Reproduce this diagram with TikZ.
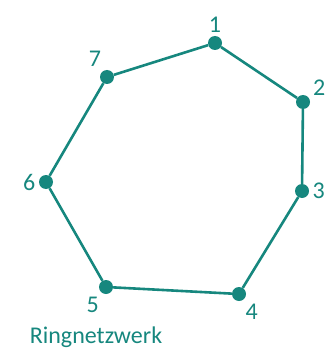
\documentclass[tikz,border=0pt]{standalone}
\usepackage{fontspec}
\setmainfont{Carlito}
\usepackage{tikz}
\definecolor{ringTeal}{HTML}{16877E}
\tikzset{
  netnode/.style={circle,fill=ringTeal,inner sep=0pt,minimum size=14pt,
    label distance=3pt},
  ringlabel/.style={text=ringTeal,font=\fontsize{24}{26}\selectfont},
  ringline/.style={draw=ringTeal,line width=2.6pt}
}
\begin{document}
\begin{tikzpicture}[x=1pt,y=-1pt,every label/.style={ringlabel}]
  \useasboundingbox (0,0) rectangle (331,350);
  \node[netnode,label=90:1] (n1) at (215,43) {};
  \node[netnode,label=25:2] (n2) at (303,102) {};
  \node[netnode,label=0:3] (n3) at (302,191) {};
  \node[netnode,label=-65:4] (n4) at (239,294) {};
  \node[netnode,label=-120:5] (n5) at (106,287) {};
  \node[netnode,label=180:6] (n6) at (46,182) {};
  \node[netnode,label=110:7] (n7) at (107,77) {};
  \node[ringlabel] (title) at (96,337) {Ringnetzwerk};
  \draw[ringline] (n1) -- (n2) -- (n3) -- (n4) -- (n5) -- (n6) -- (n7) -- (n1);
\end{tikzpicture}
\end{document}
